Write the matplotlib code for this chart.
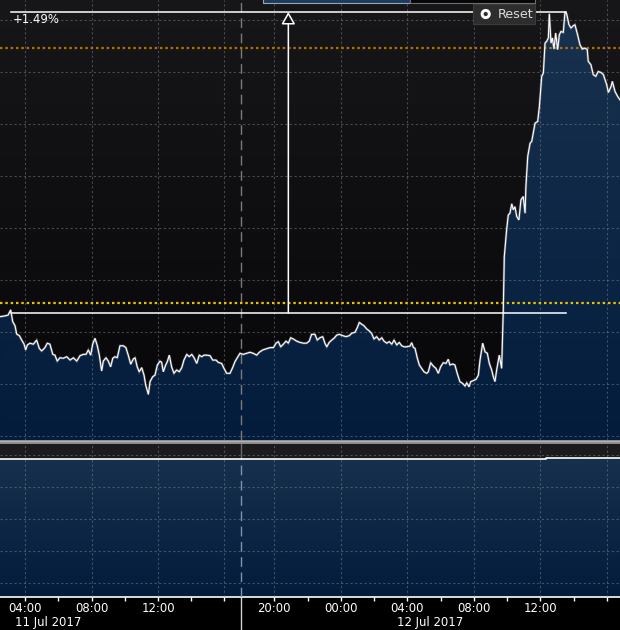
import numpy as np
import matplotlib
matplotlib.use("Agg")
import matplotlib.pyplot as plt
import matplotlib.transforms as mtrans
from matplotlib.patches import Rectangle, Circle, FancyArrowPatch, ArrowStyle
from matplotlib.colors import LinearSegmentedColormap

# ---------------- data ----------------
# hours since 11 Jul 2017 00:00 (New York time)
times = [
    2.50, 2.80, 2.98, 3.14, 3.26, 3.40, 3.50, 3.66, 3.80, 3.94,
    4.04, 4.14, 4.30, 4.50, 4.70, 4.86, 5.00, 5.20, 5.34, 5.50,
    5.67, 5.80, 5.94, 6.10, 6.30, 6.51, 6.71, 6.91, 7.11, 7.31,
    7.51, 7.67, 7.81, 7.95, 8.07, 8.21, 8.35, 8.47, 8.61, 8.71,
    8.87, 9.01, 9.15, 9.28, 9.41, 9.55, 9.71, 9.91, 10.07, 10.21,
    10.36, 10.51, 10.62, 10.75, 10.87, 11.02, 11.16, 11.26, 11.42, 11.52,
    11.68, 11.82, 11.96, 12.12, 12.22, 12.32, 12.46, 12.56, 12.68, 12.82,
    12.96, 13.12, 13.28, 13.43, 13.56, 13.73, 13.88, 14.03, 14.17, 14.33,
    14.48, 14.63, 14.77, 14.93, 15.13, 15.29, 15.49, 15.63, 15.83, 15.97,
    16.13, 16.33, 16.49, 16.63, 16.77, 16.93,
    18.13, 18.34, 18.53, 18.73, 18.94, 19.09, 19.30, 19.50, 19.74, 19.94,
    20.10, 20.24, 20.38, 20.54, 20.70, 20.84, 20.98, 21.14, 21.34, 21.54,
    21.74, 21.94, 22.10, 22.24, 22.44, 22.58, 22.74, 22.91, 23.04, 23.15,
    23.30, 23.45, 23.59, 23.75, 23.91, 24.11, 24.31, 24.51, 24.65, 24.85,
    24.99, 25.11, 25.25, 25.39, 25.55, 25.71, 25.85, 25.99, 26.15, 26.31,
    26.46, 26.59, 26.76, 26.91, 27.06, 27.20, 27.36, 27.51, 27.66, 27.80,
    27.96, 28.16, 28.26, 28.36, 28.46, 28.60, 28.72, 28.86, 29.00, 29.16,
    29.26, 29.40, 29.56, 29.72, 29.86, 30.00, 30.16, 30.32, 30.46, 30.56,
    30.73, 30.86, 31.00, 31.16, 31.33, 31.47, 31.57, 31.71, 31.81, 31.97,
    32.13, 32.27, 32.37, 32.53, 32.67, 32.81, 32.93, 33.07, 33.17, 33.27,
    33.37, 33.53, 33.67, 33.77, 33.83, 33.97, 34.07, 34.17, 34.28, 34.37,
    34.47, 34.58, 34.71, 34.83, 34.97, 35.08, 35.13, 35.24, 35.38, 35.48,
    35.57, 35.68, 35.84, 35.94, 36.08, 36.18, 36.28, 36.38, 36.48, 36.54,
    36.64, 36.72, 36.82, 36.92, 37.04, 37.14, 37.24, 37.38, 37.48, 37.58,
    37.72, 37.84, 37.98, 38.08, 38.24, 38.38, 38.52, 38.68, 38.82, 38.88,
    39.04, 39.18, 39.33, 39.48, 39.65, 39.79, 39.99, 40.09, 40.25, 40.33,
    40.49, 40.65, 40.79,
]

prices = [
    0.77659, 0.77662, 0.77665, 0.77685, 0.77640, 0.77624, 0.77592, 0.77586, 0.77569, 0.77554,
    0.77531, 0.77550, 0.77557, 0.77553, 0.77569, 0.77537, 0.77527, 0.77540, 0.77557, 0.77553,
    0.77514, 0.77511, 0.77488, 0.77501, 0.77499, 0.77505, 0.77492, 0.77501, 0.77488, 0.77509,
    0.77514, 0.77514, 0.77531, 0.77511, 0.77553, 0.77576, 0.77547, 0.77511, 0.77450, 0.77488,
    0.77501, 0.77488, 0.77466, 0.77499, 0.77505, 0.77501, 0.77547, 0.77547, 0.77540, 0.77511,
    0.77476, 0.77496, 0.77501, 0.77466, 0.77447, 0.77463, 0.77434, 0.77396, 0.77360, 0.77409,
    0.77428, 0.77434, 0.77473, 0.77488, 0.77483, 0.77447, 0.77473, 0.77486, 0.77511, 0.77466,
    0.77441, 0.77454, 0.77447, 0.77463, 0.77492, 0.77514, 0.77505, 0.77514, 0.77501, 0.77479,
    0.77511, 0.77505, 0.77511, 0.77511, 0.77509, 0.77492, 0.77492, 0.77483, 0.77479, 0.77460,
    0.77441, 0.77441, 0.77463, 0.77486, 0.77501, 0.77518,
    0.77514, 0.77518, 0.77522, 0.77518, 0.77511, 0.77522, 0.77531, 0.77535, 0.77540, 0.77540,
    0.77557, 0.77563, 0.77543, 0.77553, 0.77565, 0.77557, 0.77578, 0.77573, 0.77565, 0.77560,
    0.77557, 0.77557, 0.77565, 0.77591, 0.77591, 0.77569, 0.77578, 0.77582, 0.77557, 0.77543,
    0.77560, 0.77569, 0.77576, 0.77588, 0.77591, 0.77586, 0.77582, 0.77586, 0.77595, 0.77599,
    0.77617, 0.77637, 0.77630, 0.77624, 0.77612, 0.77604, 0.77595, 0.77573, 0.77582, 0.77569,
    0.77578, 0.77565, 0.77557, 0.77563, 0.77553, 0.77569, 0.77550, 0.77560, 0.77547, 0.77543,
    0.77543, 0.77546, 0.77559, 0.77541, 0.77537, 0.77499, 0.77473, 0.77460, 0.77447, 0.77441,
    0.77447, 0.77482, 0.77469, 0.77460, 0.77441, 0.77466, 0.77482, 0.77479, 0.77495, 0.77473,
    0.77477, 0.77473, 0.77441, 0.77409, 0.77402, 0.77392, 0.77405, 0.77389, 0.77409, 0.77413,
    0.77418, 0.77434, 0.77492, 0.77557, 0.77524, 0.77518, 0.77479, 0.77454, 0.77428, 0.77409,
    0.77454, 0.77511, 0.77460, 0.77685, 0.77890, 0.77993, 0.78050, 0.78057, 0.78093, 0.78070,
    0.78082, 0.78044, 0.78031, 0.78108, 0.78121, 0.78057, 0.78159, 0.78275, 0.78326, 0.78333,
    0.78365, 0.78403, 0.78410, 0.78467, 0.78583, 0.78596, 0.78711, 0.78718, 0.78731, 0.78824,
    0.78711, 0.78731, 0.78688, 0.78750, 0.78686, 0.78743, 0.78756, 0.78752, 0.78831, 0.78824,
    0.78782, 0.78769, 0.78778, 0.78782, 0.78743, 0.78705, 0.78688, 0.78692, 0.78686, 0.78641,
    0.78628, 0.78590, 0.78583, 0.78602, 0.78598, 0.78590, 0.78551, 0.78521, 0.78544, 0.78564,
    0.78525, 0.78506, 0.78493,
]

# lower study panel (step series)
lower_times = [2.50, 34.35, 36.35, 40.79]
lower_values = [3.86, 3.89, 3.92, 3.92]

# horizontal reference levels
yellow_level = 0.77710
orange_level = 0.78691

# measurement tool (start point, end point)
measure_start_time, measure_start_price = 3.16, 0.77673
measure_end_time, measure_end_price = 37.52, 0.78831

session_break = (17.0, 18.0)          # trading halt, hidden from the time axis
day_boundary = 17.0
major_ticks = [4, 8, 12, 16, 20, 24, 28, 32, 36, 40]
major_labels = ["04:00", "08:00", "12:00", "", "20:00", "00:00", "04:00", "08:00", "12:00", ""]
minor_ticks = [6, 10, 14, 22, 26, 30, 34, 38]
date_labels = ["11 Jul 2017", "12 Jul 2017"]
date_anchor_hours = [4, 28]
price_grid = [0.772, 0.774, 0.776, 0.778, 0.780, 0.782, 0.784, 0.786, 0.788]
lower_grid = [0, 1, 2, 3, 4]

x_range = (2.496, 40.79)
y_range = (0.771846, 0.788769)
lower_range = (-0.4375, 4.344)

# ---------------- scale that removes the trading halt ----------------
b0, b1 = session_break


def fwd(t):
    t = np.asarray(t, dtype=float)
    return np.where(t <= b0, t, np.where(t >= b1, t - (b1 - b0), b0))


def inv(u):
    u = np.asarray(u, dtype=float)
    return np.where(u <= b0, u, u + (b1 - b0))


W, H = 620, 630
fig = plt.figure(figsize=(W / 100, H / 100), dpi=100, facecolor="black")

ax = fig.add_axes([0, 190 / H, 1, 440 / H])
ax2 = fig.add_axes([0, 33 / H, 1, 153 / H])
for a in (ax, ax2):
    a.set_xscale("function", functions=(fwd, inv))

FS = 8.4
grid_kw = dict(color="#8f8f8f", alpha=0.45, lw=0.8, ls=(0, (2.0, 2.2)))

# gradients
grad = np.linspace(0, 1, 256).reshape(-1, 1)
bg_cmap = LinearSegmentedColormap.from_list("bg", ["#17171a", "#060608"])
fill_cmap = LinearSegmentedColormap.from_list("fill", ["#18324f", "#031c3c"])

# ---- main panel ----
ax.set_xlim(*x_range)
ax.set_ylim(*y_range)
ax.axis("off")
ax.imshow(grad, extent=(0, 1, 0, 1), transform=ax.transAxes, aspect="auto",
          cmap=bg_cmap, origin="upper", zorder=0)
poly = ax.fill_between(times, prices, y_range[0] - 0.01, facecolor="none",
                       edgecolor="none", zorder=1)
im = ax.imshow(grad, extent=(0, 1, 0, 1), transform=ax.transAxes, aspect="auto",
               cmap=fill_cmap, origin="upper", zorder=1)
im.set_clip_path(poly.get_paths()[0], ax.transData)

for p in price_grid:
    ax.axhline(p, zorder=3, **grid_kw)
for t in major_ticks:
    ax.axvline(t, zorder=3, **grid_kw)
ax.axvline(day_boundary, color="#7a7a7a", lw=1.0, ls=(0, (7, 4)), zorder=3)

ax.axhline(yellow_level, color="#e9c200", lw=1.6, ls=(0, (1.1, 1.3)), zorder=4)
ax.axhline(orange_level, color="#b06e10", lw=1.6, ls=(0, (1.1, 1.3)), zorder=4)

ax.plot(times, prices, color="#9a9a9a", lw=1.7, alpha=0.5, zorder=5,
        solid_joinstyle="miter")
ax.plot(times, prices, color="white", lw=0.8, zorder=6, solid_joinstyle="miter")

# measurement tool
ax.plot([measure_start_time, measure_end_time], [measure_start_price] * 2,
        color="white", lw=1.1, zorder=7)
ax.plot([measure_start_time, measure_end_time], [measure_end_price] * 2,
        color="white", lw=1.1, zorder=7)
t_mid = float(inv((fwd(measure_start_time) + fwd(measure_end_time)) / 2))
arrow = FancyArrowPatch((t_mid, measure_start_price), (t_mid, measure_end_price),
                        arrowstyle=ArrowStyle("-|>", head_length=7.4, head_width=4.2),
                        mutation_scale=1, shrinkA=0, shrinkB=0, lw=1.1,
                        facecolor="#141417", edgecolor="white", zorder=8)
ax.add_patch(arrow)
pct = (measure_end_price / measure_start_price - 1) * 100
ax.annotate(f"{pct:+.2f}%", xy=(measure_start_time, measure_end_price),
            xytext=(1.5, -5.6), textcoords="offset points", ha="left", va="center",
            color="white", fontsize=FS, zorder=9)

# ---- lower panel ----
ax2.set_xlim(*x_range)
ax2.set_ylim(*lower_range)
ax2.set_facecolor("#1b1b1b")
poly2 = ax2.fill_between(lower_times, lower_values, lower_range[0] - 1, step="post",
                         facecolor="none", edgecolor="none", zorder=1)
im2 = ax2.imshow(grad, extent=(0, 1, 0, 1), transform=ax2.transAxes, aspect="auto",
                 cmap=fill_cmap, origin="upper", zorder=1)
im2.set_clip_path(poly2.get_paths()[0], ax2.transData)
for g in lower_grid:
    ax2.axhline(g, zorder=3, **grid_kw)
for t in major_ticks:
    ax2.axvline(t, zorder=3, **grid_kw)
ax2.plot([day_boundary] * 2, [lower_range[0], lower_values[0]], color="#7f93ad",
         lw=1.0, ls=(0, (7, 4)), zorder=3)
ax2.plot([day_boundary] * 2, [lower_values[0], lower_range[1]], color="#6a6a6a",
         lw=1.0, zorder=3)
ax2.step(lower_times, lower_values, where="post", color="white", lw=1.2, zorder=5)

for s in ("top", "left", "right"):
    ax2.spines[s].set_visible(False)
ax2.spines["bottom"].set_color("white")
ax2.spines["bottom"].set_linewidth(1.2)
ax2.set_xticks(major_ticks)
ax2.set_xticklabels(major_labels)
ax2.set_xticks(minor_ticks, minor=True)
ax2.set_yticks([])
ax2.tick_params(axis="x", which="both", direction="out", length=2.6, width=1.0,
                color="white", labelcolor="white", labelsize=FS, pad=0.8)

trans = mtrans.blended_transform_factory(ax2.transData, ax2.transAxes)
ax2.plot([day_boundary] * 2, [0, -33 / 153], transform=trans, clip_on=False,
         color="#d0d0d0", lw=1.0)
for lab, hr in zip(date_labels, date_anchor_hours):
    ax2.annotate(lab, xy=(hr, 0), xycoords=trans, xytext=(-7.4, -18.6),
                 textcoords="offset points", ha="left", va="center",
                 color="white", fontsize=FS, annotation_clip=False)

# ---- overlay: panel separator, navigator strip, reset button ----
ov = fig.add_axes([0, 0, 1, 1])
ov.set_xlim(0, W)
ov.set_ylim(H, 0)
ov.axis("off")
ov.add_patch(Rectangle((0, 440), W, 4, facecolor="#8b8b8b", edgecolor="none"))
ov.plot([0, W], [440.6, 440.6], color="#b5b5b5", lw=0.8)
ov.add_patch(Rectangle((263, -2), 147, 4.7, facecolor="#1e3a5c", edgecolor="#9aa6b6", lw=0.8))
ov.add_patch(Rectangle((410, -2), 125, 4.7, facecolor="#060606", edgecolor="#6f6f6f", lw=0.8))
ov.add_patch(Rectangle((473, 4), 62, 20, facecolor="#2d2d2d", edgecolor="#3b3b3b", lw=0.8))
ov.add_patch(Circle((485.7, 14), 3.6, facecolor="none", edgecolor="white", lw=2.1))
ov.text(497.5, 14.2, "Reset", color="#dcdcdc", fontsize=9.2, ha="left", va="center")

fig.savefig("out.png", dpi=100, facecolor="black")
